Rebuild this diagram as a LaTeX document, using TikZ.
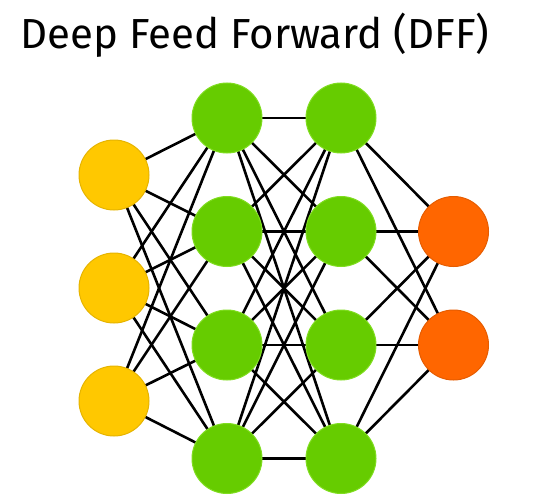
\documentclass[tikz,border=0pt]{standalone}
\usepackage{fontspec}
\setmainfont{Fira Sans}
\usetikzlibrary{backgrounds}
\begin{document}
\begin{tikzpicture}[x=1pt,y=-1pt,
  neuron/.style={circle,minimum size=70pt,inner sep=0pt,line width=1pt},
  inp/.style={neuron,fill=inyellow,draw=inyellowdark},
  hid/.style={neuron,fill=hidgreen,draw=hidgreenlight},
  outp/.style={neuron,fill=outorange,draw=outorangedark},
  link/.style={line width=2.6pt,black}]
\definecolor{inyellow}{HTML}{FFC800}
\definecolor{inyellowdark}{HTML}{E6B400}
\definecolor{hidgreen}{HTML}{66CC00}
\definecolor{hidgreenlight}{HTML}{80DD20}
\definecolor{outorange}{HTML}{FF6600}
\definecolor{outorangedark}{HTML}{E65C00}
\useasboundingbox (0,0) rectangle (534,500);
\node[anchor=base west,inner sep=0pt,font=\fontsize{42}{48}\selectfont] (title) at (20,49) {Deep Feed Forward (DFF)};
\foreach \i/\y in {1/175,2/288,3/401} \node[inp] (i\i) at (114,\y) {};
\foreach \i/\y in {1/118,2/231.5,3/345,4/458.5} {
  \node[hid] (a\i) at (227,\y) {};
  \node[hid] (b\i) at (341,\y) {};
}
\foreach \i/\y in {1/231.5,2/345} \node[outp] (o\i) at (453.5,\y) {};
\begin{scope}[on background layer]
  \foreach \i in {1,2,3} \foreach \j in {1,2,3,4} \draw[link] (i\i.center) -- (a\j.center);
  \foreach \i in {1,2,3,4} \foreach \j in {1,2,3,4} \draw[link] (a\i.center) -- (b\j.center);
  \foreach \i in {1,2,3,4} \foreach \j in {1,2} \draw[link] (b\i.center) -- (o\j.center);
\end{scope}
\end{tikzpicture}
\end{document}
